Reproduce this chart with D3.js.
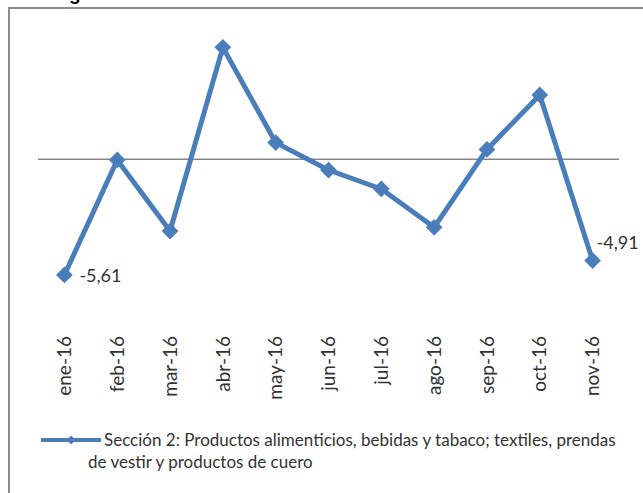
<!DOCTYPE html>
<html>
<head>
<meta charset="utf-8">
<script src="https://cdn.jsdelivr.net/npm/d3@7"></script>
<style>
body { margin: 0; background: #fff; }
svg { display: block; }
</style>
</head>
<body>
<div id="chart"></div>
<script>
var width = 643;
var height = 493;

var months = ["ene-16", "feb-16", "mar-16", "abr-16", "may-16", "jun-16",
	"jul-16", "ago-16", "sep-16", "oct-16", "nov-16"];
var values = [-5.61, -0.03, -3.48, 5.43, 0.81, -0.52, -1.44, -3.30, 0.48, 3.12, -4.91];
var labelled = ["ene-16", "nov-16"];
var seriesName = ["Sección 2: Productos alimenticios, bebidas y tabaco; textiles, prendas",
	"de vestir y productos de cuero"];

var blue = "#4a7ebb";
var fontFam = "Lato, 'Open Sans', sans-serif";

var svg = d3.select("#chart").append("svg")
	.attr("width", width)
	.attr("height", height);

// chart frame (cut off on the right and bottom)
svg.append("rect")
	.attr("x", 9).attr("y", 8)
	.attr("width", 800).attr("height", 800)
	.attr("fill", "#fff")
	.attr("stroke", "#8c8c8c")
	.attr("stroke-width", 2);

// cut off title, only the descender shows
svg.append("text")
	.attr("x", 69).attr("y", 0)
	.attr("font-family", "'Liberation Sans', Arial, sans-serif")
	.attr("font-weight", "bold")
	.attr("font-size", 19)
	.attr("fill", "#000")
	.text("g");

var x = d3.scaleBand()
	.domain(months)
	.range([38, 619]);

var y = d3.scaleLinear()
	.domain([-6, 6])
	.range([283, 35.6]);

// zero line
svg.append("line")
	.attr("x1", x.range()[0]).attr("x2", x.range()[1])
	.attr("y1", y(0)).attr("y2", y(0))
	.attr("stroke", "#868686")
	.attr("stroke-width", 1.5);

// category labels, rotated
var xAxis = svg.append("g")
	.attr("transform", "translate(0,333)")
	.call(d3.axisBottom(x).tickSize(0).tickPadding(0));
xAxis.select(".domain").remove();
xAxis.selectAll("text")
	.attr("transform", "rotate(-90)")
	.attr("text-anchor", "end")
	.attr("dy", "0.35em")
	.attr("x", -3)
	.attr("y", 0)
	.attr("font-family", fontFam)
	.attr("font-size", 19)
	.attr("fill", "#333");

var line = d3.line()
	.x(function(d, i) { return x(months[i]) + x.bandwidth() / 2; })
	.y(function(d) { return y(d); });

svg.append("path")
	.datum(values)
	.attr("d", line)
	.attr("fill", "none")
	.attr("stroke", blue)
	.attr("stroke-width", 5)
	.attr("stroke-linejoin", "round");

var diamond = d3.symbol().type(d3.symbolSquare).size(140);

svg.append("g")
	.selectAll("path")
	.data(values)
	.enter()
	.append("path")
	.attr("d", diamond)
	.attr("fill", blue)
	.attr("transform", function(d, i) {
		return "translate(" + (x(months[i]) + x.bandwidth() / 2) + "," + y(d) + ") rotate(45)";
	});

// data labels
var fmt = function(v) { return v.toFixed(2).replace(".", ","); };
svg.append("g")
	.selectAll("text")
	.data(values.map(function(v, i) { return {m: months[i], v: v}; })
		.filter(function(d) { return labelled.indexOf(d.m) >= 0; }))
	.enter()
	.append("text")
	.attr("x", function(d) { return x(d.m) + x.bandwidth() / 2 + (d.m === "ene-16" ? 15 : 4); })
	.attr("y", function(d) { return y(d.v) + (d.m === "ene-16" ? 7 : -12); })
	.attr("font-family", fontFam)
	.attr("font-size", 18)
	.attr("fill", "#333")
	.text(function(d) { return fmt(d.v); });

// legend
var leg = svg.append("g");
leg.append("line")
	.attr("x1", 41).attr("x2", 101)
	.attr("y1", 440).attr("y2", 440)
	.attr("stroke", blue)
	.attr("stroke-width", 4);
leg.append("path")
	.attr("d", d3.symbol().type(d3.symbolSquare).size(40))
	.attr("fill", blue)
	.attr("transform", "translate(71,440) rotate(45)");
leg.selectAll("text")
	.data(seriesName)
	.enter()
	.append("text")
	.attr("x", function(d, i) { return i === 0 ? 104 : 88; })
	.attr("y", function(d, i) { return 446 + i * 22; })
	.attr("font-family", fontFam)
	.attr("font-size", 17)
	.attr("fill", "#333")
	.text(function(d) { return d; });
</script>
</body>
</html>
